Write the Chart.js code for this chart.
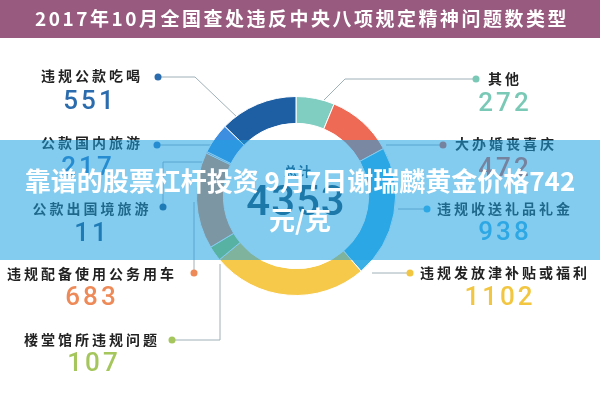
<!DOCTYPE html>
<html>
<head>
<meta charset="utf-8">
<script src="https://cdn.jsdelivr.net/npm/chart.js@4.4.1/dist/chart.umd.min.js"></script>
<style>
  html, body { margin: 0; padding: 0; background: #fff; }
  #wrap { width: 600px; height: 400px; }
</style>
</head>
<body>
<div id="wrap"><canvas id="typeChart" width="600" height="400"></canvas></div>
<script>
// 2017年10月 违反八项规定问题数 by type (clockwise from top)
const titleText = "2017年10月全国查处违反中央八项规定精神问题数类型";
const categories = ["其他", "大办婚丧喜庆", "违规收送礼品礼金", "违规发放津补贴或福利",
  "楼堂馆所违规问题", "违规配备使用公务用车", "公款出国境旅游", "公款国内旅游", "违规公款吃喝"];
const counts = [272, 472, 938, 1102, 107, 683, 11, 217, 551];
const totalLabel = "总计";
const bannerLines = ["靠谱的股票杠杆投资 9月7日谢瑞麟黄金价格742", "元/克"];

const sliceColors = ["#80cdc1", "#ee6a55", "#3aafe6", "#f7c94b", "#a0c85a",
  "#ef8a5a", "#8f6aa8", "#3d8ee0", "#1e5fa3"];
const numberColors = ["#79c9b6", "#e2604f", "#41b1e6", "#f2c640", "#a5c65c",
  "#ee8a58", "#1f4f80", "#2f74bd", "#2a6cae"];

// callout layout: side, dot, line path, label anchor, number anchor
const callouts = [
  { side: "R", line: [[476, 79], [345, 79], [323, 101]], lx: 488, ly: 79, nx: 505, ny: 104 },
  { side: "R", line: [[443, 145], [386, 145]], lx: 455, ly: 144, nx: 505, ny: 169 },
  { side: "R", line: [[427, 209], [398, 209]], lx: 437, ly: 209, nx: 505, ny: 233 },
  { side: "R", line: [[410, 273], [372, 273]], lx: 420, ly: 273, nx: 500, ny: 298 },
  { side: "L", line: [[172, 340], [220, 340], [220, 264]], lx: 92, ly: 340, nx: 94, ny: 364 },
  { side: "L", line: [[194, 273], [194, 202]], lx: 92, ly: 274, nx: 92, ny: 298 },
  { side: "L", line: [[163, 207], [163, 162], [212, 162]], lx: 92, ly: 209, nx: 92, ny: 234 },
  { side: "L", line: [[157, 145], [214, 145]], lx: 92, ly: 143, nx: 88, ny: 168 },
  { side: "L", line: [[158, 77], [195, 77], [238, 118]], lx: 92, ly: 76, nx: 90, ny: 102 },
];

const decorations = {
  id: "decorations",
  beforeDraw(chart) {
    const { ctx } = chart;
    ctx.save();
    // callout lines
    ctx.strokeStyle = "#9fb0b8";
    ctx.lineWidth = 1;
    callouts.forEach((c) => {
      ctx.beginPath();
      c.line.forEach((p, i) => (i ? ctx.lineTo(p[0], p[1]) : ctx.moveTo(p[0], p[1])));
      ctx.stroke();
    });
    ctx.restore();
  },
  afterDraw(chart) {
    const { ctx } = chart;
    ctx.save();

    // title bar
    ctx.fillStyle = "#985a7e";
    ctx.fillRect(0, 0, 600, 38);
    ctx.fillStyle = "#ffffff";
    ctx.font = "bold 19px 'Noto Sans CJK SC'";
    ctx.letterSpacing = "2.5px";
    ctx.textAlign = "center";
    ctx.textBaseline = "middle";
    ctx.fillText(titleText, 302, 19);

    // dots, labels, numbers
    callouts.forEach((c, i) => {
      const d = c.line[0];
      ctx.fillStyle = numberColors[i];
      ctx.beginPath();
      ctx.arc(d[0], d[1], 3.5, 0, Math.PI * 2);
      ctx.fill();

      ctx.fillStyle = "#222222";
      ctx.font = "bold 14px 'Noto Sans CJK SC'";
      ctx.letterSpacing = "3px";
      ctx.textAlign = c.side === "L" ? "center" : "left";
      ctx.fillText(categories[i], c.lx, c.ly);

      ctx.fillStyle = numberColors[i];
      ctx.font = "500 26px Roboto";
      ctx.letterSpacing = "3px";
      ctx.textAlign = "center";
      ctx.fillText(String(counts[i]), c.nx, c.ny);
    });

    // centre total
    const total = counts.reduce((a, b) => a + b, 0);
    const arc = chart.getDatasetMeta(0).data[0];
    ctx.fillStyle = "#1d4766";
    ctx.font = "bold 13px 'Noto Sans CJK SC'";
    ctx.letterSpacing = "1px";
    ctx.fillText(totalLabel, arc.x + 2, arc.y - 25);
    ctx.font = "500 42px Roboto";
    ctx.letterSpacing = "1px";
    ctx.fillText(String(total), arc.x, arc.y + 8);

    // banner overlay
    ctx.fillStyle = "rgba(30,160,225,0.55)";
    ctx.fillRect(0, 140, 600, 120);
    ctx.fillStyle = "#ffffff";
    ctx.font = "bold 26px 'Noto Sans CJK SC'";
    ctx.letterSpacing = "0px";
    ctx.fillText(bannerLines[0], 300, 181);
    ctx.fillText(bannerLines[1], 300, 220);

    ctx.restore();
  },
};

new Chart(document.getElementById("typeChart"), {
  type: "doughnut",
  data: {
    labels: categories,
    datasets: [
      {
        data: counts,
        backgroundColor: sliceColors,
        borderColor: "#ffffff",
        borderWidth: 1,
      },
    ],
  },
  options: {
    responsive: false,
    animation: false,
    cutout: "73%",
    layout: {
      padding: { top: 96, bottom: 104, left: 196, right: 204 },
    },
    plugins: {
      legend: { display: false },
      tooltip: { enabled: false },
    },
  },
  plugins: [decorations],
});
</script>
</body>
</html>
